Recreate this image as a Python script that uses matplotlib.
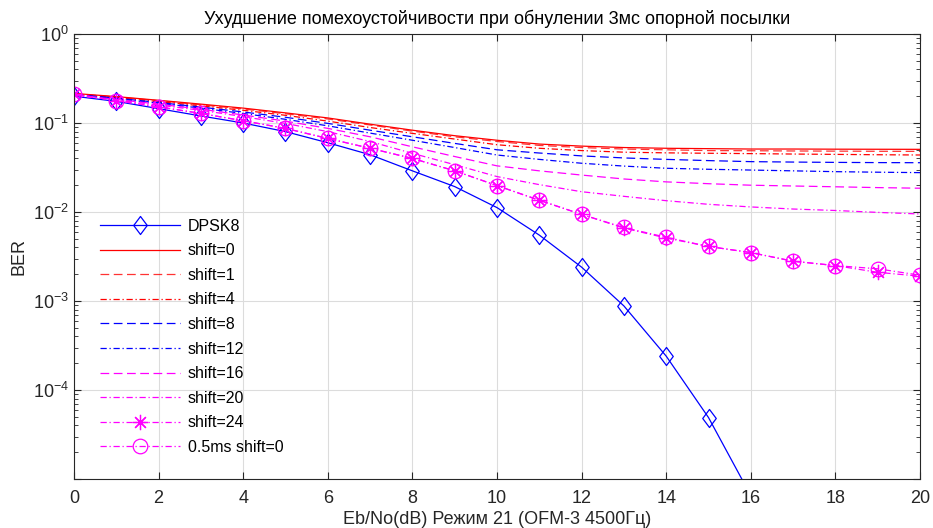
import numpy as np
import matplotlib.pyplot as plt
from matplotlib.path import Path
from matplotlib.ticker import FuncFormatter

plt.rcParams['font.family'] = ['Liberation Sans Narrow', 'Liberation Sans', 'DejaVu Sans']
plt.rcParams['mathtext.default'] = 'regular'

snr = np.arange(21)

dpsk8 = [0.2, 0.175, 0.145, 0.12, 0.1, 0.08, 0.06, 0.044, 0.029, 0.0193, 0.0112,
         0.0055, 0.0024, 0.00088, 0.00024, 4.9e-5, 6.5e-6]
shift0 = [0.215, 0.198, 0.180, 0.163, 0.147, 0.130, 0.114, 0.097, 0.083, 0.072, 0.064,
          0.058, 0.055, 0.053, 0.052, 0.0515, 0.051, 0.051, 0.0508, 0.0507, 0.0506]
shift1 = [0.213, 0.196, 0.178, 0.160, 0.144, 0.127, 0.111, 0.095, 0.081, 0.070, 0.062,
          0.056, 0.053, 0.051, 0.050, 0.049, 0.0488, 0.0485, 0.0483, 0.0481, 0.048]
shift4 = [0.212, 0.193, 0.174, 0.156, 0.139, 0.122, 0.105, 0.089, 0.0765, 0.066, 0.057,
          0.052, 0.049, 0.047, 0.0462, 0.0457, 0.0453, 0.0448, 0.0444, 0.044, 0.0437]
shift8 = [0.21, 0.19, 0.17, 0.151, 0.133, 0.116, 0.099, 0.083, 0.070, 0.059, 0.050,
          0.046, 0.0427, 0.0405, 0.039, 0.0378, 0.0368, 0.0364, 0.0361, 0.0359, 0.0358]
shift12 = [0.208, 0.187, 0.167, 0.147, 0.128, 0.110, 0.093, 0.077, 0.064, 0.053, 0.0437,
           0.039, 0.0353, 0.0328, 0.031, 0.0302, 0.0296, 0.029, 0.0284, 0.028, 0.0277]
shift16 = [0.206, 0.184, 0.163, 0.143, 0.123, 0.105, 0.087, 0.07, 0.054, 0.042, 0.033,
           0.029, 0.026, 0.0235, 0.0218, 0.0208, 0.020, 0.0196, 0.0192, 0.0188, 0.0185]
shift20 = [0.205, 0.181, 0.159, 0.139, 0.118, 0.099, 0.08, 0.062, 0.0456, 0.034, 0.025,
           0.0203, 0.0169, 0.015, 0.0134, 0.0122, 0.0114, 0.0108, 0.0104, 0.0099, 0.0095]
shift24 = [0.212, 0.178, 0.152, 0.128, 0.106, 0.087, 0.067, 0.052, 0.040, 0.029, 0.0198,
           0.0136, 0.0094, 0.0066, 0.0051, 0.0041, 0.0035, 0.0028, 0.0025, 0.0021, 0.0019]
half_ms = [0.212, 0.178, 0.152, 0.128, 0.106, 0.087, 0.067, 0.052, 0.040, 0.029, 0.0198,
           0.0135, 0.0094, 0.0067, 0.0052, 0.0041, 0.0035, 0.0028, 0.0025, 0.0023, 0.00195]

RED = '#ff0000'
BLUE = '#0000ff'
MAG = '#ff00ff'

# matlab-ish styles
dash = (7, 3.6)
dashdot = (5, 2.2, 1, 2.2)
diamond = Path([(0, 1), (0.75, 0), (0, -1), (-0.75, 0), (0, 1)],
               [Path.MOVETO, Path.LINETO, Path.LINETO, Path.LINETO, Path.CLOSEPOLY])

fig = plt.figure(figsize=(9.33, 5.28), dpi=100)
ax = fig.add_axes([0.0793, 0.0928, 0.9068, 0.8428])

ax.semilogy(snr[:len(dpsk8)], dpsk8, color=BLUE, lw=0.9, marker=diamond, ms=13,
            mfc='none', mec=BLUE, mew=0.9, label='DPSK8')
ax.semilogy(snr, shift0, color=RED, lw=0.9, label='shift=0')
ax.semilogy(snr, shift1, color=RED, lw=0.9, dashes=dash, label='shift=1', alpha=0.8)
ax.semilogy(snr, shift4, color=RED, lw=0.9, dashes=dashdot, label='shift=4')
ax.semilogy(snr, shift8, color=BLUE, lw=0.9, dashes=dash, label='shift=8')
ax.semilogy(snr, shift12, color=BLUE, lw=0.9, dashes=dashdot, label='shift=12')
ax.semilogy(snr, shift16, color=MAG, lw=0.9, dashes=dash, label='shift=16')
ax.semilogy(snr, shift20, color=MAG, lw=0.9, dashes=dashdot, label='shift=20')
ax.semilogy(snr, shift24, color=MAG, lw=0.9, dashes=dashdot, marker=(8, 2, 0), ms=11,
            mec=MAG, mew=0.9, label='shift=24')
ax.semilogy(snr, half_ms, color=MAG, lw=0.9, dashes=dashdot, marker='o', ms=10.5,
            mfc='none', mec=MAG, mew=0.9, label='0.5ms shift=0')

ax.set_xlim(0, 20)
ax.set_ylim(1e-5, 1)
ax.set_xticks(np.arange(0, 21, 2))
ax.yaxis.set_major_formatter(FuncFormatter(
    lambda v, p: '' if v < 2e-5 else r'$10^{%d}$' % round(np.log10(v))))
ax.grid(True, which='major', color='#dcdcdc', lw=0.8)
ax.set_axisbelow(True)
ax.tick_params(which='both', direction='in', top=True, right=True, colors='#262626',
               labelsize=13, labelcolor='#262626')
ax.tick_params(which='major', length=5)
ax.tick_params(which='minor', length=3)
ax.tick_params(axis='x', pad=8)
for s in ax.spines.values():
    s.set_color('#262626')
    s.set_linewidth(0.8)

ax.set_title('Ухудшение помехоустойчивости при обнулении 3мс опорной посылки',
             fontsize=13, color='k', pad=7)
ax.set_xlabel('Eb/No(dB) Режим 21 (OFM-3 4500Гц)', fontsize=13, color='#262626',
              labelpad=3)
ax.set_ylabel('BER', fontsize=13, color='#262626')

ax.legend(loc='upper left', bbox_to_anchor=(0.031, 0.585), frameon=False,
          fontsize=11.5, handlelength=5.0, handletextpad=0.5, labelspacing=0.6,
          borderpad=0, borderaxespad=0)

plt.savefig('out.png', dpi=100)
